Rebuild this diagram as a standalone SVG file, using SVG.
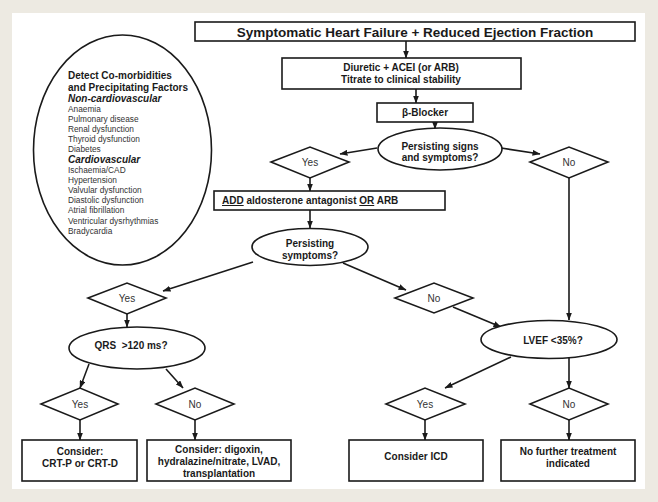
<svg xmlns="http://www.w3.org/2000/svg" width="658" height="502" viewBox="0 0 658 502">
<defs>
<marker id="ah" markerWidth="8" markerHeight="6" refX="7.5" refY="3" orient="auto" markerUnits="userSpaceOnUse">
<path d="M0,0 L8,3 L0,6 z" fill="#1a1a1a"/>
</marker>
<style>
.bx{fill:#fff;stroke:#1a1a1a;stroke-width:1.6}
.dm{fill:#fff;stroke:#1a1a1a;stroke-width:1.6}
.el{fill:#fff;stroke:#1a1a1a;stroke-width:1.6}
.cn{fill:none;stroke:#1a1a1a;stroke-width:1.6;marker-end:url(#ah)}
.b{font-family:"Liberation Sans",Arial,sans-serif;font-weight:bold;font-size:10px;fill:#1a1a1a;text-anchor:middle}
.r{font-family:"Liberation Sans",Arial,sans-serif;font-size:10px;fill:#333;text-anchor:middle}
.s{font-family:"Liberation Sans",Arial,sans-serif;font-size:8.3px;fill:#333}
.h{font-family:"Liberation Sans",Arial,sans-serif;font-size:10px;font-weight:bold;fill:#1a1a1a}
.t{font-family:"Liberation Sans",Arial,sans-serif;font-weight:bold;font-size:13.5px;fill:#1a1a1a;text-anchor:middle}
.l{font-family:"Liberation Sans",Arial,sans-serif;font-weight:bold;font-size:10px;fill:#1a1a1a;text-anchor:start}
</style>
</defs>
<rect x="0" y="0" width="658" height="502" fill="#edeae2"/>
<rect x="12" y="13" width="633" height="476" fill="#fff"/>

<g id="connectors">
<line class="cn" x1="406" y1="41" x2="406" y2="58"/>
<line class="cn" x1="416" y1="89" x2="416" y2="103"/>
<line class="cn" x1="435" y1="122" x2="435" y2="129"/>
<line class="cn" x1="377" y1="148" x2="340" y2="154"/>
<line class="cn" x1="501" y1="148" x2="540" y2="154"/>
<line class="cn" x1="310" y1="178" x2="310" y2="191"/>
<line class="cn" x1="310" y1="210" x2="310" y2="228"/>
<line class="cn" x1="253" y1="262" x2="163" y2="291"/>
<line class="cn" x1="343" y1="263" x2="406" y2="290"/>
<line class="cn" x1="569" y1="178" x2="569" y2="320"/>
<line class="cn" x1="453" y1="307" x2="501" y2="327"/>
<line class="cn" x1="127" y1="314" x2="127" y2="327"/>
<line class="cn" x1="89" y1="364" x2="80" y2="388"/>
<line class="cn" x1="166" y1="369" x2="183" y2="388"/>
<line class="cn" x1="511" y1="357" x2="445" y2="388"/>
<line class="cn" x1="569" y1="358" x2="569" y2="388"/>
<line class="cn" x1="80" y1="420" x2="80" y2="440"/>
<line class="cn" x1="195" y1="420" x2="195" y2="440"/>
<line class="cn" x1="425" y1="420" x2="425" y2="440"/>
<line class="cn" x1="569" y1="420" x2="569" y2="440"/>
</g>

<g id="comorbidities">
<ellipse class="el" cx="122.5" cy="150" rx="89" ry="115"/>
<text class="h" x="68" y="79">Detect Co-morbidities</text>
<text class="h" x="68" y="91">and Precipitating Factors</text>
<text class="h" x="68" y="102" font-style="italic">Non-cardiovascular</text>
<text class="s" x="68" y="112">Anaemia</text>
<text class="s" x="68" y="122">Pulmonary disease</text>
<text class="s" x="68" y="132">Renal dysfunction</text>
<text class="s" x="68" y="142">Thyroid dysfunction</text>
<text class="s" x="68" y="152">Diabetes</text>
<text class="h" x="68" y="163" font-style="italic">Cardiovascular</text>
<text class="s" x="68" y="173">Ischaemia/CAD</text>
<text class="s" x="68" y="183">Hypertension</text>
<text class="s" x="68" y="193">Valvular dysfunction</text>
<text class="s" x="68" y="203">Diastolic dysfunction</text>
<text class="s" x="68" y="213">Atrial fibrillation</text>
<text class="s" x="68" y="224">Ventricular dysrhythmias</text>
<text class="s" x="68" y="234">Bradycardia</text>
</g>

<g id="title">
<rect class="bx" x="195" y="22" width="440" height="19"/>
<text class="t" x="415" y="36.5">Symptomatic Heart Failure + Reduced Ejection Fraction</text>
</g>

<g id="diuretic">
<rect class="bx" x="282" y="58" width="239" height="31"/>
<text class="b" x="401" y="71">Diuretic + ACEI (or ARB)</text>
<text class="b" x="401" y="83">Titrate to clinical stability</text>
</g>

<g id="beta-blocker">
<rect class="bx" x="377" y="103" width="96" height="19"/>
<text class="b" x="425" y="116">β-Blocker</text>
</g>

<g id="persisting-signs">
<ellipse class="el" cx="440" cy="149" rx="62" ry="21"/>
<text class="b" x="440" y="149.5">Persisting signs</text>
<text class="b" x="440" y="161">and symptoms?</text>
</g>

<g id="yes1">
<polygon class="dm" points="271,162 310,147 349,162 310,178"/>
<text class="r" x="310" y="166">Yes</text>
</g>

<g id="no1">
<polygon class="dm" points="530,162 569,147 608,162 569,178"/>
<text class="r" x="569" y="166">No</text>
</g>

<g id="add">
<rect class="bx" x="214" y="191" width="231" height="19"/>
<text class="l" x="222" y="204"><tspan text-decoration="underline">ADD</tspan> aldosterone antagonist <tspan text-decoration="underline">OR</tspan> ARB</text>
</g>

<g id="persisting-symptoms">
<ellipse class="el" cx="310" cy="247" rx="58" ry="18.5"/>
<text class="b" x="310" y="247">Persisting</text>
<text class="b" x="310" y="259">symptoms?</text>
</g>

<g id="yes2">
<polygon class="dm" points="88,298 127,283 166,298 127,314"/>
<text class="r" x="127" y="302">Yes</text>
</g>

<g id="no2">
<polygon class="dm" points="395,298 434,283 473,298 434,313"/>
<text class="r" x="434" y="302">No</text>
</g>

<g id="qrs">
<ellipse class="el" cx="137" cy="348" rx="68" ry="21"/>
<text class="b" x="131" y="349" xml:space="preserve">QRS  &gt;120 ms?</text>
</g>

<g id="lvef">
<ellipse class="el" cx="549" cy="339.5" rx="68" ry="19"/>
<text class="b" x="553" y="344">LVEF &lt;35%?</text>
</g>

<g id="yes3">
<polygon class="dm" points="41,404 80,388 118,404 80,420"/>
<text class="r" x="80" y="408">Yes</text>
</g>

<g id="no3">
<polygon class="dm" points="156,404 195,388 234,404 195,420"/>
<text class="r" x="195" y="408">No</text>
</g>

<g id="yes4">
<polygon class="dm" points="386,404 425,388 465,404 425,420"/>
<text class="r" x="425" y="408">Yes</text>
</g>

<g id="no4">
<polygon class="dm" points="530,404 569,388 608,404 569,420"/>
<text class="r" x="569" y="408">No</text>
</g>

<g id="crt">
<rect class="bx" x="22" y="440" width="115" height="41"/>
<text class="b" x="80" y="455">Consider:</text>
<text class="b" x="80" y="466.5">CRT-P or CRT-D</text>
</g>

<g id="digoxin">
<rect class="bx" x="147" y="440" width="144" height="41"/>
<text class="b" x="219" y="453">Consider: digoxin,</text>
<text class="b" x="219" y="465">hydralazine/nitrate, LVAD,</text>
<text class="b" x="219" y="476.5">transplantation</text>
</g>

<g id="icd">
<rect class="bx" x="349" y="440" width="134" height="41"/>
<text class="b" x="416" y="460">Consider ICD</text>
</g>

<g id="no-further">
<rect class="bx" x="501" y="440" width="134" height="41"/>
<text class="b" x="568" y="455">No further treatment</text>
<text class="b" x="568" y="466.5">indicated</text>
</g>
</svg>
